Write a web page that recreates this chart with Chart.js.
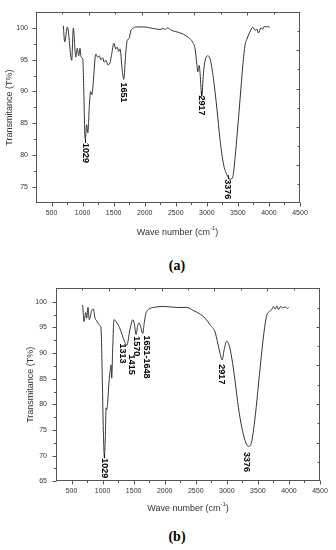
<!DOCTYPE html>
<html>
<head>
<meta charset="utf-8">
<script src="https://cdn.jsdelivr.net/npm/chart.js@4.4.0/dist/chart.umd.min.js"></script>
<style>
  body { margin: 0; background: #fff; width: 336px; height: 550px; position: relative; overflow: hidden; }
  canvas { position: absolute; left: 0; }
  #chartA { top: 0; }
  #chartB { top: 275px; }
  .caption { position: absolute; left: 9px; width: 336px; text-align: center; font: bold 14px "Liberation Serif", serif; color: #000; line-height: 16px; }
</style>
</head>
<body>
<canvas id="chartA" width="336" height="250"></canvas>
<canvas id="chartB" width="336" height="245"></canvas>
<div class="caption" style="top:258px">(a)</div>
<div class="caption" style="top:529px">(b)</div>
<script>
// FTIR spectra, values

const xTicks = [500, 1000, 1500, 2000, 2500, 3000, 3500, 4000, 4500];
const yTicksA = [75, 80, 85, 90, 95, 100];
const yTicksB = [65, 70, 75, 80, 85, 90, 95, 100];

// (a)
const waveA = [690, 712, 755, 825, 851, 890, 915, 938, 959, 975, 1002, 1020, 1035, 1045, 1065, 1085, 1110, 1130,
  1150, 1165, 1184, 1212, 1244, 1270, 1292, 1324, 1346, 1378, 1405, 1432, 1469, 1502, 1534, 1555, 1582, 1603,
  1636, 1663, 1695, 1721, 1748, 1775, 1818, 1872, 1979, 2140, 2248, 2301, 2328, 2365, 2436, 2543, 2623, 2704,
  2775, 2811, 2839, 2855, 2876, 2892, 2919, 2945, 2973, 3010, 3053, 3107, 3161, 3214, 3268, 3322, 3376, 3419,
  3456, 3493, 3536, 3579, 3617, 3644, 3686, 3741, 3778, 3805, 3831, 3870, 3902, 3923, 3955, 3992, 4008];
const transA = [100.35, 97.8, 100.15, 94.9, 100.0, 95.4, 96.8, 95.6, 96.8, 95.4, 95.1, 90.0, 83.5, 82.5, 84.8, 83.5, 88.0, 90.0,
  89.5, 90.6, 93.1, 95.9, 95.4, 95.6, 95.0, 95.3, 94.6, 94.9, 94.2, 94.3, 95.9, 97.6, 96.7, 97.0, 96.3, 96.7,
  93.6, 91.9, 96.1, 98.1, 98.3, 99.5, 100.0, 100.15, 100.15, 99.9, 99.75, 99.9, 99.75, 100.0, 99.6, 99.3, 99.0, 98.5,
  97.7, 96.7, 94.3, 93.1, 94.1, 92.8, 89.2, 92.8, 94.9, 95.6, 95.1, 92.0, 87.4, 82.3, 78.6, 76.9, 76.2, 76.6,
  79.7, 83.8, 88.9, 94.1, 97.4, 98.2, 99.2, 100.1, 99.6, 99.8, 99.2, 100.0, 99.8, 100.25, 100.15, 100.25, 100.0];

// (b)
const waveB = [680, 701, 728, 744, 765, 786, 825, 851, 878, 906, 931, 959, 975, 996, 1012, 1028, 1044, 1056, 1067,
  1083, 1104, 1120, 1136, 1147, 1163, 1184, 1217, 1254, 1292, 1335, 1367, 1389, 1442, 1486, 1511, 1539, 1566,
  1587, 1614, 1646, 1672, 1695, 1721, 1764, 1872, 1979, 2194, 2355, 2462, 2570, 2650, 2731, 2811, 2849, 2892,
  2924, 2956, 2999, 3037, 3080, 3133, 3187, 3241, 3295, 3348, 3387, 3429, 3472, 3525, 3580, 3617, 3644, 3686,
  3725, 3751, 3778, 3805, 3831, 3870, 3902, 3939, 3977, 3993];
const transB = [99.35, 96.15, 97.9, 96.8, 98.9, 96.5, 98.3, 98.6, 96.8, 96.3, 95.7, 95.4, 94.7, 84.5, 74.9, 69.8, 73.6, 79.3, 79.0,
  80.6, 84.5, 86.4, 87.7, 85.1, 90.9, 96.5, 96.15, 95.4, 94.4, 92.8, 91.9, 91.5, 94.7, 96.5, 95.7, 93.6, 95.4,
  95.9, 95.1, 93.8, 96.0, 97.6, 98.3, 98.7, 99.0, 99.1, 98.9, 98.9, 98.3, 97.6, 96.8, 95.5, 94.1, 92.2, 89.9,
  88.65, 90.6, 92.3, 91.5, 89.0, 84.5, 79.35, 75.5, 72.9, 71.8, 72.2, 74.9, 79.35, 85.8, 92.2, 95.7, 97.4, 98.1,
  98.5, 99.1, 98.6, 99.2, 98.5, 99.1, 98.8, 99.0, 98.7, 98.9];

// peak labels: text, wavenumber of label centre, value at label top, leader dash
const peakTextA = ['1029', '1651', '2917', '3376'];
const peakWaveA = [1039, 1656, 2908, 3338];
const peakTopA = [81.9, 91.4, 89.35, 76.2];
const peakDashA = [true, false, true, true];

const peakTextB = ['1029', '1313', '1415', '1570', '1651-1648', '2917', '3376'];
const peakWaveB = [1028, 1325, 1458, 1550, 1711, 2908, 3322];
const peakTopB = [69.5, 91.85, 89.7, 93.3, 93.45, 87.8, 70.7];
const peakDashB = [true, false, false, false, false, false, false];

const frameAndLabels = {
    id: 'frameAndLabels',
    afterDraw(chart, args, opts) {
        const { ctx, chartArea: a, scales } = chart;
        const xs = scales.x, ys = scales.y;
        const L = Math.round(a.left) + 0.5, R = Math.round(a.right) - 0.5;
        const T = Math.round(a.top) + 0.5, B = Math.round(a.bottom) - 0.5;
        ctx.save();
        ctx.strokeStyle = '#555';
        ctx.lineWidth = 1;
        ctx.strokeRect(L, T, R - L, B - T);

        ctx.beginPath();
        // bottom ticks (outward) with minors
        const xt = opts.xTicks;
        const xHalf = (xt[1] - xt[0]) / 2;
        xt.forEach(v => {
            const px = Math.round(xs.getPixelForValue(v)) + 0.5;
            ctx.moveTo(px, B); ctx.lineTo(px, B + 4);
            const m = v - xHalf;
            if (m > xs.min + 1) {
                const pm = Math.round(xs.getPixelForValue(m)) + 0.5;
                ctx.moveTo(pm, B); ctx.lineTo(pm, B + 2.5);
            }
        });
        // left ticks (outward) with minors
        const yt = opts.yTicks;
        const yHalf = (yt[1] - yt[0]) / 2;
        yt.forEach(v => {
            const py = Math.round(ys.getPixelForValue(v)) + 0.5;
            ctx.moveTo(L, py); ctx.lineTo(L - 4, py);
            const m = v + yHalf;
            if (m < ys.max - 0.3) {
                const pm = Math.round(ys.getPixelForValue(m)) + 0.5;
                ctx.moveTo(L, pm); ctx.lineTo(L - 2.5, pm);
            }
        });
        // top and right frame ticks (inward), ten divisions
        for (let i = 1; i < 10; i++) {
            const len = i % 2 === 0 ? 3 : 2;
            const px = Math.round(a.left + (a.right - a.left) * i / 10) + 0.5;
            ctx.moveTo(px, T); ctx.lineTo(px, T + len);
            const py = Math.round(a.top + (a.bottom - a.top) * i / 10) + 0.5;
            ctx.moveTo(R, py); ctx.lineTo(R - len, py);
        }
        ctx.stroke();

        // axis titles
        ctx.fillStyle = '#333';
        ctx.font = '9px "Liberation Sans", Arial, sans-serif';
        ctx.textBaseline = 'middle';
        const t1 = 'Wave number (cm', t2 = '-1', t3 = ')';
        const w1 = ctx.measureText(t1).width, w3 = ctx.measureText(t3).width;
        ctx.font = '6px "Liberation Sans", Arial, sans-serif';
        const w2 = ctx.measureText(t2).width;
        const cx = (a.left + a.right) / 2 + opts.xTitleDx;
        const cy = a.bottom + opts.xTitleDy;
        let sx = cx - (w1 + w2 + w3) / 2;
        ctx.textAlign = 'left';
        ctx.font = '9px "Liberation Sans", Arial, sans-serif';
        ctx.fillText(t1, sx, cy);
        ctx.font = '6px "Liberation Sans", Arial, sans-serif';
        ctx.fillText(t2, sx + w1, cy - 4);
        ctx.font = '9px "Liberation Sans", Arial, sans-serif';
        ctx.fillText(t3, sx + w1 + w2, cy);

        ctx.save();
        ctx.translate(opts.yTitleX, (a.top + a.bottom) / 2);
        ctx.rotate(-Math.PI / 2);
        ctx.textAlign = 'center';
        ctx.fillText('Transmitance (T%)', 0, 0);
        ctx.restore();

        // peak labels, rotated to read downward
        ctx.fillStyle = '#000';
        ctx.strokeStyle = '#111';
        ctx.font = 'bold 9px "Liberation Sans", Arial, sans-serif';
        opts.peakText.forEach((txt, i) => {
            const px = xs.getPixelForValue(opts.peakWave[i]);
            const py = ys.getPixelForValue(opts.peakTop[i]);
            if (opts.peakDash[i]) {
                ctx.beginPath();
                ctx.moveTo(Math.round(px) + 0.5, py - 4);
                ctx.lineTo(Math.round(px) + 0.5, py);
                ctx.stroke();
            }
            ctx.save();
            ctx.translate(px, py);
            ctx.rotate(Math.PI / 2);
            ctx.textAlign = 'left';
            ctx.textBaseline = 'middle';
            ctx.fillText(txt, 0, 0);
            ctx.restore();
        });
        ctx.restore();
    }
};

function makeChart(id, opts) {
    const ctx = document.getElementById(id).getContext('2d');
    return new Chart(ctx, {
        type: 'line',
        data: {
            datasets: [{
                data: opts.wave.map((w, i) => ({ x: w, y: opts.trans[i] })),
                borderColor: '#333',
                borderWidth: 1,
                pointRadius: 0,
                cubicInterpolationMode: 'monotone',
                fill: false
            }]
        },
        options: {
            responsive: false,
            animation: false,
            devicePixelRatio: 1,
            layout: { padding: opts.padding },
            plugins: {
                legend: { display: false },
                tooltip: { enabled: false },
                frameAndLabels: {
                    xTicks: xTicks,
                    yTicks: opts.yTicks,
                    xTitleDx: opts.xTitleDx,
                    xTitleDy: opts.xTitleDy,
                    yTitleX: opts.yTitleX,
                    peakText: opts.peakText,
                    peakWave: opts.peakWave,
                    peakTop: opts.peakTop,
                    peakDash: opts.peakDash
                }
            },
            scales: {
                x: {
                    type: 'linear',
                    min: 250,
                    max: 4500,
                    grid: { display: false, drawTicks: false },
                    border: { display: false },
                    afterBuildTicks: s => { s.ticks = xTicks.map(v => ({ value: v })); },
                    afterFit: s => { s.height = opts.xHeight; },
                    ticks: {
                        padding: 5.5,
                        maxRotation: 0,
                        autoSkip: false,
                        color: '#333',
                        callback: v => String(v),
                        font: { family: '"Liberation Sans", Arial, sans-serif', size: 7 }
                    }
                },
                y: {
                    min: opts.yMin,
                    max: opts.yMax,
                    grid: { display: false, drawTicks: false },
                    border: { display: false },
                    afterBuildTicks: s => { s.ticks = opts.yTicks.map(v => ({ value: v })); },
                    afterFit: s => { s.width = opts.yWidth; },
                    ticks: {
                        padding: opts.yPad,
                        color: '#333',
                        callback: v => String(v),
                        font: { family: '"Liberation Sans", Arial, sans-serif', size: 7 }
                    }
                }
            }
        },
        plugins: [frameAndLabels]
    });
}

makeChart('chartA', {
    wave: waveA, trans: transA, yTicks: yTicksA,
    yMin: 72.45, yMax: 102.47,
    padding: { top: 9, right: 36, left: 0, bottom: 0 },
    xHeight: 47, yWidth: 36, yPad: 8,
    xTitleDx: 9.5, xTitleDy: 29.5, yTitleX: 9.5,
    peakText: peakTextA, peakWave: peakWaveA, peakTop: peakTopA, peakDash: peakDashA
});

makeChart('chartB', {
    wave: waveB, trans: transB, yTicks: yTicksB,
    yMin: 65, yMax: 102.65,
    padding: { top: 10.5, right: 16, left: 0, bottom: 0 },
    xHeight: 38.7, yWidth: 56, yPad: 9,
    xTitleDx: 0, xTitleDy: 27.5, yTitleX: 31,
    peakText: peakTextB, peakWave: peakWaveB, peakTop: peakTopB, peakDash: peakDashB
});
</script>
</body>
</html>
